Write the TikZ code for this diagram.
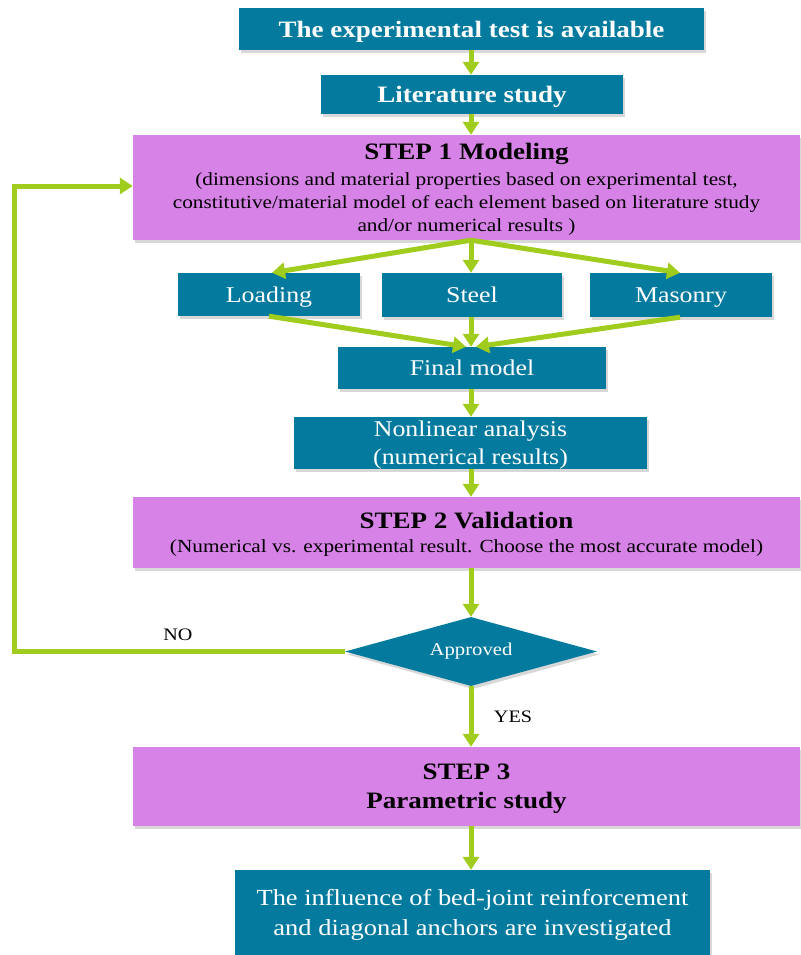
\documentclass[tikz,border=0pt]{standalone}
\usepackage{fontspec}
\setmainfont{Liberation Serif}[FakeStretch=1.15]
\usetikzlibrary{shapes.geometric,arrows.meta,shadows}
\definecolor{tealbox}{RGB}{4,123,158}
\definecolor{violetbox}{RGB}{214,130,230}
\definecolor{arrowgreen}{RGB}{160,204,30}
\begin{document}
\begin{tikzpicture}[x=1pt,y=-1pt,
  shd/.style={drop shadow={shadow xshift=2pt,shadow yshift=-3pt,fill=black!30,opacity=0.5}},
  tbox/.style={shd,fill=tealbox,text=white,inner sep=0pt,align=center,text depth=0pt,font=\fontsize{22.5}{28}\selectfont},
  vbox/.style={shd,fill=violetbox,text=black,inner sep=0pt,align=center,text depth=0pt,font=\fontsize{18.5}{23}\selectfont},
  garrow/.style={draw=arrowgreen,line width=5pt,line join=miter,-{Triangle[length=13pt,width=16pt]},arrowgreen},
  lbl/.style={font=\fontsize{17.5}{20}\selectfont,text=black,inner sep=0pt}]
\useasboundingbox (0,0) rectangle (800,955);

\node[tbox,minimum width=465pt,minimum height=42pt,font=\fontsize{23.5}{28}\selectfont\bfseries] (b1) at (471.5,29) {The experimental test is available};
\node[tbox,minimum width=302pt,minimum height=39pt,font=\fontsize{23.5}{28}\selectfont\bfseries] (b2) at (472,94.5) {Literature study};
\node[vbox,minimum width=667pt,minimum height=105pt] (s1) at (466.5,187.5)
  {{\fontsize{23.5}{28}\selectfont\bfseries STEP 1 Modeling}\\[3pt]
   (dimensions and material properties based on experimental test,\\
   constitutive/material model of each element based on literature study\\
   and/or numerical results )};
\node[tbox,minimum width=182pt,minimum height=43pt] (load) at (269,294.5) {Loading};
\node[tbox,minimum width=180pt,minimum height=44pt] (steel) at (472,295) {Steel};
\node[tbox,minimum width=182pt,minimum height=44pt] (mas) at (681,295) {Masonry};
\node[tbox,minimum width=268pt,minimum height=42pt] (fm) at (472,368) {Final model};
\node[tbox,minimum width=353pt,minimum height=52pt] (nl) at (470.5,443) {Nonlinear analysis\\(numerical results)};
\node[vbox,minimum width=667pt,minimum height=71pt] (s2) at (466.5,532.5)
  {{\fontsize{23.5}{28}\selectfont\bfseries STEP 2 Validation}\\[1pt]
   (Numerical vs. experimental result. Choose the most accurate model)};
\node[diamond,shd,fill=tealbox,text=white,inner sep=0pt,minimum width=252pt,minimum height=69pt,aspect=3.65,font=\fontsize{18}{20}\selectfont] (dia) at (471,651.5) {Approved};
\node[vbox,minimum width=667pt,minimum height=79pt,font=\fontsize{23.5}{29}\selectfont\bfseries] (s3) at (466.5,786.5) {STEP 3\\Parametric study};
\node[tbox,minimum width=475pt,minimum height=85pt,font=\fontsize{23}{30}\selectfont] (fin) at (472.5,912.5) {The influence of bed-joint reinforcement\\and diagonal anchors are investigated};

\coordinate (cx) at (471,0);
\draw[garrow] (b1.south -| cx) -- (b2.north -| cx);
\draw[garrow] (b2.south -| cx) -- (s1.north -| cx);
\draw[garrow] (s1.south -| cx) -- ([xshift=3pt]load.north);
\draw[garrow] (s1.south -| cx) -- (steel.north -| cx);
\draw[garrow] (s1.south -| cx) -- ([xshift=-1pt]mas.north);
\draw[garrow] (load.south) -- ([xshift=-5pt]fm.north -| cx);
\draw[garrow] (steel.south -| cx) -- (fm.north -| cx);
\draw[garrow] ([xshift=-1pt]mas.south) -- ([xshift=5pt]fm.north -| cx);
\draw[garrow] (fm.south -| cx) -- (nl.north -| cx);
\draw[garrow] (nl.south -| cx) -- (s2.north -| cx);
\draw[garrow] (s2.south -| cx) -- (dia.north);
\draw[garrow] (dia.south) -- (s3.north -| cx);
\draw[garrow] (s3.south -| cx) -- (fin.north -| cx);
\coordinate (lp) at (14,186);
\draw[garrow] (dia.west) -| (lp) -- (s1.west |- lp);

\node[lbl] (no) at (178,635) {NO};
\node[lbl] (yes) at (513,717) {YES};
\end{tikzpicture}
\end{document}
